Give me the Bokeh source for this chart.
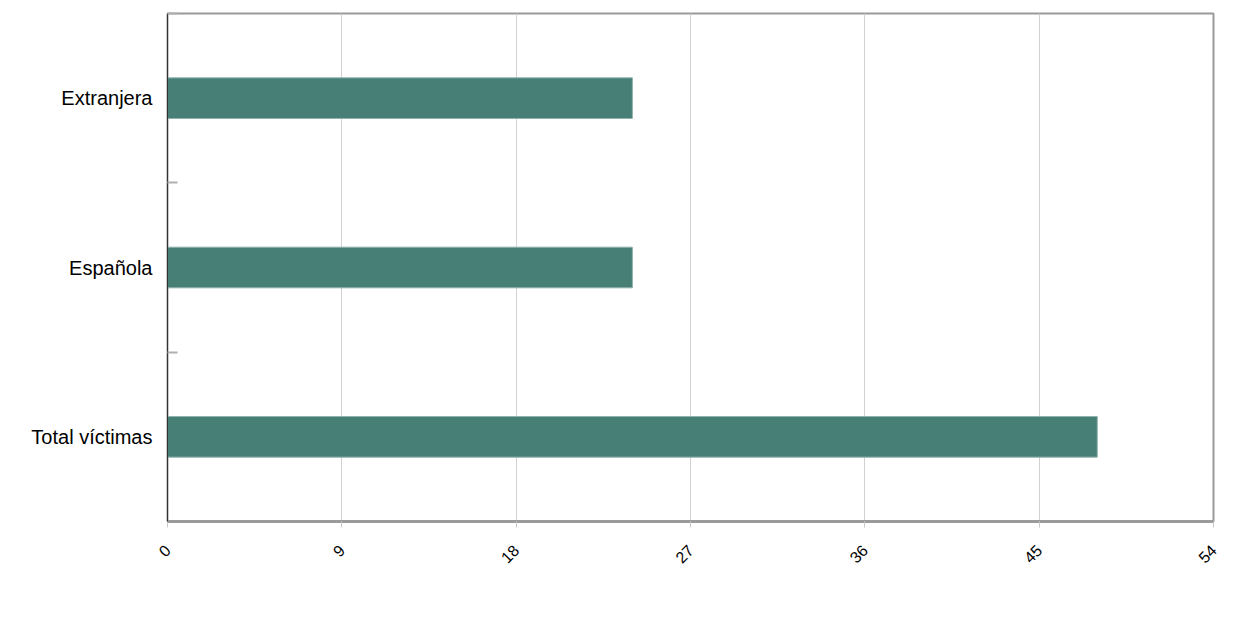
from math import pi

from bokeh.plotting import figure
from bokeh.models import ColumnDataSource, FixedTicker, Range1d
from bokeh.embed import file_html
from bokeh.resources import INLINE

# data (bottom to top)
categories = ["Total víctimas", "Española", "Extranjera"]
values = [48, 24, 24]
x_ticks = [0, 9, 18, 27, 36, 45, 54]

BAR = "#477e76"
FONT = "Liberation Sans"

centers = [i + 0.5 for i in range(len(categories))]
source = ColumnDataSource(data=dict(y=centers, right=values, cat=categories))

p = figure(width=1240, height=610, output_backend="svg", toolbar_location=None,
           x_range=Range1d(0, 54), y_range=Range1d(0, len(categories)),
           min_border_left=167, min_border_right=27, min_border_top=13, min_border_bottom=89)

p.hbar(y='y', left=0, right='right', height=0.24, source=source,
       fill_color=BAR, line_color="#8fb3ad", line_width=1)

# frame
p.outline_line_color = "#9a9a9a"
p.outline_line_width = 2
p.background_fill_color = "white"
p.border_fill_color = "white"

# x axis
p.xaxis.ticker = FixedTicker(ticks=x_ticks)
p.xaxis.major_label_orientation = pi / 4
p.xaxis.major_label_text_font = FONT
p.xaxis.major_label_text_font_size = "16px"
p.xaxis.major_label_text_color = "#000000"
p.xaxis.axis_line_color = "#9a9a9a"
p.xaxis.axis_line_width = 3
p.xaxis.major_tick_line_color = "#c8c8c8"
p.xaxis.major_tick_out = 6
p.xaxis.major_tick_in = 0
p.xaxis.minor_tick_line_color = None
p.xaxis.major_label_standoff = 20

# y axis: labels at band centres, small marks at band boundaries
p.yaxis.ticker = FixedTicker(ticks=centers, minor_ticks=list(range(1, len(categories) + 1)))
p.yaxis.major_label_overrides = {c: lab for c, lab in zip(centers, categories)}
p.yaxis.major_tick_line_color = None
p.yaxis.minor_tick_line_color = "#b0b0b0"
p.yaxis.minor_tick_line_width = 2
p.yaxis.minor_tick_in = 10
p.yaxis.minor_tick_out = 0
p.yaxis.axis_line_color = "#333333"
p.yaxis.axis_line_width = 1
p.yaxis.major_label_text_font = FONT
p.yaxis.major_label_text_font_size = "20px"
p.yaxis.major_label_text_color = "#000000"
p.yaxis.major_label_standoff = 9

# grid
p.xgrid.grid_line_color = "#d2d2d2"
p.xgrid.grid_line_width = 1
p.ygrid.grid_line_color = None

open("out.html", "w").write(file_html(p, INLINE))
